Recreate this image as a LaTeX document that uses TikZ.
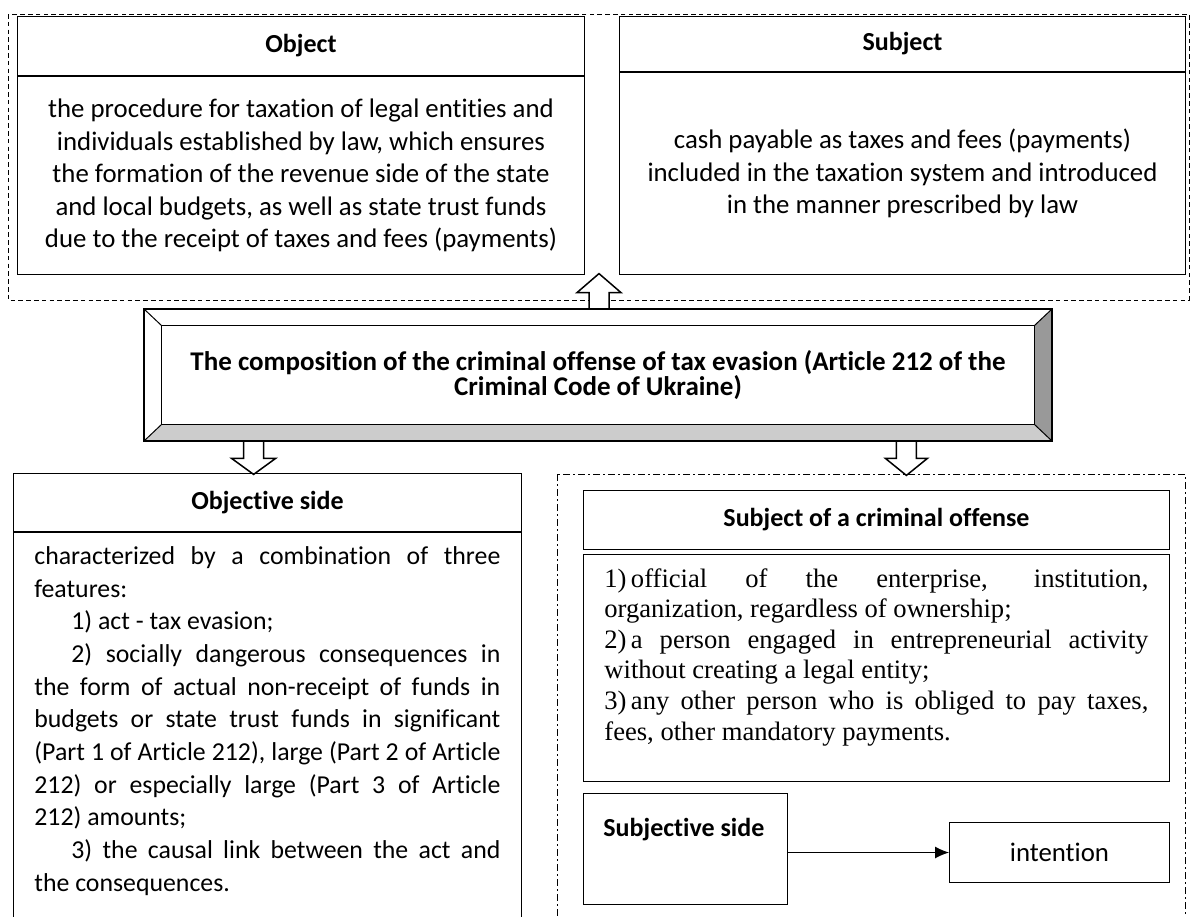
\documentclass[tikz,border=0pt]{standalone}
\usepackage{fontspec}
\setmainfont{Carlito}[Ligatures=NoCommon]
\newfontfamily\timesfont{Liberation Serif}
\usetikzlibrary{arrows.meta,calc,positioning}

\begin{document}
\begin{tikzpicture}[x=.5pt,y=-.5pt,>={Latex[length=7pt,width=6pt]},
  box/.style={draw,line width=.5pt,inner sep=0pt,anchor=north west,align=center},
  hd/.style={box,font=\bfseries\fontsize{13}{15.6}\selectfont},
  tx/.style={font=\fontsize{13.4}{16.3}\selectfont},
  par/.style={anchor=north west,inner sep=0pt,align=justify},
  blockarr/.style={draw,fill=white,line width=.75pt,line join=miter},
  frame/.style={line width=.5pt,dash pattern=on 2.3pt off 1.6pt},
  dashdot/.style={line width=.5pt,dash pattern=on 3.5pt off 1.5pt on 1pt off 1.5pt}]
\useasboundingbox (0,0) rectangle (1191,917);
\clip (0,0) rectangle (1191,917);
% upper frame: object and subject
\draw[frame] (8,14) rectangle (1189,300);
\node[hd,minimum width=283.5pt,minimum height=29.5pt] (objhead) at (17,16) {Object};
\node[box,tx,minimum width=283.5pt,minimum height=99pt] (objbody) at (objhead.south west)
 {the procedure for taxation of legal entities and\\
  individuals established by law, which ensures\\
  the formation of the revenue side of the state\\
  and local budgets, as well as state trust funds\\
  due to the receipt of taxes and fees (payments)};
\node[hd,minimum width=283pt,minimum height=27.5pt] (subjhead) at (619,16) {Subject};
\node[box,tx,minimum width=283pt,minimum height=101pt] (subjbody) at (subjhead.south west)
 {cash payable as taxes and fees (payments)\\
  included in the taxation system and introduced\\
  in the manner prescribed by law};
% central bevelled box
\node[inner sep=0pt,minimum width=436pt,minimum height=49pt,align=center,
  font=\bfseries\fontsize{13.5}{12.8}\selectfont] (core) at (598,375)
 {The composition of the criminal offense of tax evasion (Article 212 of the\\
  Criminal Code of Ukraine)};
\coordinate (bevNW) at ($(core.north west)+(-18,-17)$);
\coordinate (bevNE) at ($(core.north east)+(18,-17)$);
\coordinate (bevSW) at ($(core.south west)+(-18,17)$);
\coordinate (bevSE) at ($(core.south east)+(18,17)$);
\fill[black!20] (bevSW) -- (core.south west) -- (core.south east) -- (bevSE) -- cycle;
\fill[black!40] (bevSE) -- (core.south east) -- (core.north east) -- (bevNE) -- cycle;
% block arrows
\draw[blockarr] ($(core.north)+(-9,-17)$) -- ++(0,-16) -- ++(-12,0) -- ++(22,-19)
  -- ++(22,19) -- ++(-12,0) -- ++(0,16);
\draw[blockarr] ($(bevSW)+(100,0)$) -- ++(0,17) -- ++(-12,0) -- ++(22,16)
  -- ++(22,-16) -- ++(-12,0) -- ++(0,-17);
\draw[blockarr] ($(bevSE)+(-156,0)$) -- ++(0,17) -- ++(-11,0) -- ++(21,17)
  -- ++(21,-17) -- ++(-11,0) -- ++(0,-17);
\draw[line width=.5pt] (bevNW) -- (core.north west) (bevNE) -- (core.north east)
  (bevSW) -- (core.south west) (bevSE) -- (core.south east);
\draw[line width=.5pt] (core.north west) rectangle (core.south east);
\draw[line width=1pt] (bevNW) rectangle (bevSE);
% objective side
\node[hd,minimum width=254pt,minimum height=29pt] (objvhead) at (13,473) {Objective side};
\node[box,minimum width=254pt,minimum height=200pt] (objvbody) at (objvhead.south west) {};
\node[par,font=\fontsize{12.9}{16.35}\selectfont,text width=233pt] (objvtext) at (34,546)
 {\tolerance=10000 \hyphenpenalty=10000
  characterized by a combination of three\linebreak features:\par
  \hspace*{18.5pt}1) act - tax evasion;\par
  \hspace*{18.5pt}2) socially dangerous consequences in\linebreak
  the form of actual non-receipt of funds in\linebreak
  budgets or state trust funds in significant\linebreak
  (Part 1 of Article 212), large (Part 2 of Article\linebreak
  212) or especially large (Part 3 of Article\linebreak
  212) amounts;\par
  \hspace*{18.5pt}3) the causal link between the act and\linebreak
  the consequences.};
% subject of the offense and subjective side
\draw[dashdot] (557,474) rectangle (1185,940);
\node[hd,minimum width=293pt,minimum height=29.5pt] (offhead) at (583,490)
 {Subject of a criminal offense};
\node[box,minimum width=293pt,minimum height=113.5pt] (offbody) at (583,554) {};
\node[par,font=\timesfont\fontsize{13.3}{15.3}\selectfont,text width=272pt] (offtext) at (604,568)
 {\tolerance=10000 \hyphenpenalty=10000
  1)\,official of the enterprise, institution,\linebreak
  organization, regardless of ownership;\par
  2)\,a person engaged in entrepreneurial activity\linebreak
  without creating a legal entity;\par
  3)\,any other person who is obliged to pay taxes,\linebreak
  fees, other mandatory payments.};
\node[box,minimum width=102pt,minimum height=55.5pt] (subjside) at (583,793) {};
\node[anchor=west,inner sep=0pt,font=\bfseries\fontsize{13}{15.6}\selectfont] (sidelabel)
  at (603,830) {Subjective side};
\node[box,tx,minimum width=110pt,minimum height=30pt] (intent) at (949,822) {intention};
\draw[->,line width=.5pt] (subjside.east |- intent.west) -- (intent.west);
\end{tikzpicture}
\end{document}
